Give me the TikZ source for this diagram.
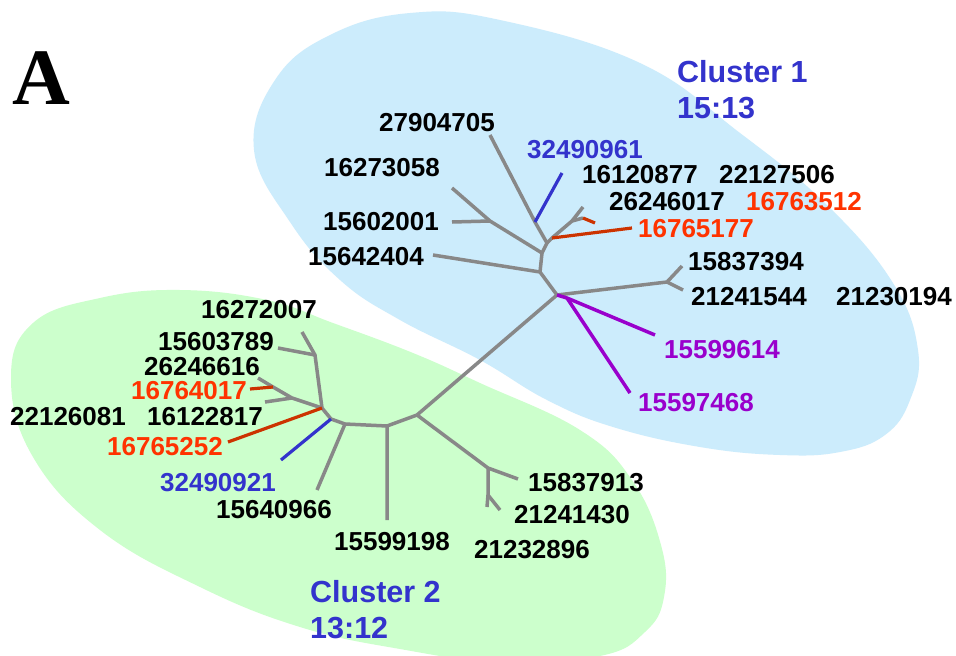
\documentclass[tikz,border=0pt]{standalone}
\usepackage{fontspec}
\setmainfont{Liberation Sans}
\newfontfamily\serifA{Liberation Serif}
\definecolor{bluefill}{RGB}{204,236,252}
\definecolor{greenfill}{RGB}{204,255,204}
\definecolor{clblue}{RGB}{51,51,204}
\definecolor{redtxt}{RGB}{255,51,0}
\definecolor{redln}{RGB}{204,51,0}
\definecolor{purp}{RGB}{153,0,204}
\definecolor{treegray}{RGB}{136,136,136}
\tikzset{
  lbl/.style={font=\fontsize{26}{28}\selectfont\bfseries, inner sep=0pt, text=black},
  clbl/.style={font=\fontsize{30.5}{33}\selectfont\bfseries, inner sep=0pt, text=clblue, anchor=west},
  br/.style={draw=treegray, line width=3.5pt, line join=round},
  brred/.style={draw=redln, line width=3.2pt},
  brblue/.style={draw=clblue, line width=3.2pt},
  brpurp/.style={draw=purp, line width=3.5pt},
}
\begin{document}
\begin{tikzpicture}[x=1pt,y=-1pt]
\clip (0,0) rectangle (956,656);
\fill[white] (0,0) rectangle (956,656);
% cluster regions
\fill[bluefill] plot[smooth cycle, tension=0.7] coordinates {
 (254,150) (275,80) (330,35) (410,13) (500,20) (640,63) (740,133) (827,205)
 (893,283) (918,350) (910,400) (885,435) (840,452) (780,455) (700,447) (613,427)
 (547,400) (480,360) (400,320) (340,280) (290,222)};
\fill[greenfill] plot[smooth cycle, tension=0.7] coordinates {
 (11,378) (33,323) (100,298) (180,290) (267,300) (333,323) (413,353)
 (480,383) (580,430) (632,480) (661,545) (664,597) (645,632) (600,656)
 (500,662) (400,649) (300,627) (200,587) (100,530) (33,457)};
% panel letter
\node[font=\serifA\fontsize{80}{80}\selectfont\bfseries, inner sep=0pt, anchor=base] (panel) at (41,104) {A};
% cluster labels
\node[clbl] (cl1) at (677,72) {Cluster 1};
\node[clbl] (cl1r) at (677,108) {15:13};
\node[clbl] (cl2) at (310,592) {Cluster 2};
\node[clbl] (cl2r) at (310,628) {13:12};
% ---------- tree coordinates, cluster 1 ----------
\coordinate (c1) at (557,295);
\coordinate (c1r) at (667,282);
\coordinate (e15837394) at (682,266);
\coordinate (e21241544) at (683,290);
\coordinate (c1p) at (567,298);
\coordinate (e15599614) at (655,335);
\coordinate (e15597468) at (630,393);
\coordinate (c2) at (540,272);
\coordinate (e15642404) at (433,255);
\coordinate (c3) at (542,253);
\coordinate (c3a) at (490,221);
\coordinate (e16273058) at (452,188);
\coordinate (e15602001) at (452,222);
\coordinate (c4) at (547,243);
\coordinate (c4a) at (535,222);
\coordinate (e27904705) at (490,135);
\coordinate (e32490961) at (562,173);
\coordinate (c4b) at (552,238);
\coordinate (e16765177) at (632,228);
\coordinate (c4c) at (572,221);
\coordinate (e16120877) at (583,207);
\coordinate (c4q) at (583,218);
\coordinate (e16763512) at (595,223);
% ---------- cluster 2 ----------
\coordinate (m1) at (417,415);
\coordinate (mr) at (488,468);
\coordinate (e15837913) at (518,479);
\coordinate (mr2) at (488,495);
\coordinate (e21232896) at (487,507);
\coordinate (e21241430) at (500,510);
\coordinate (m2) at (387,426);
\coordinate (e15599198) at (387,520);
\coordinate (m3) at (345,424);
\coordinate (e15640966) at (317,490);
\coordinate (m4) at (331,419);
\coordinate (e32490921) at (281,460);
\coordinate (m5) at (322,408);
\coordinate (e16765252) at (228,442);
\coordinate (j1) at (315,355);
\coordinate (e16272007) at (302,332);
\coordinate (e15603789) at (278,348);
\coordinate (j2) at (292,398);
\coordinate (jr) at (273,387);
\coordinate (e26246616) at (258,378);
\coordinate (e16764017) at (250,389);
\coordinate (e16122817) at (265,402);
% ---------- gray branches ----------
\draw[br] (c1) -- (m1);
\draw[br] (c1) -- (c1r) -- (e15837394);
\draw[br] (c1r) -- (e21241544);
\draw[br] (c1) -- (c2) -- (e15642404);
\draw[br] (c2) -- (c3) -- (c3a) -- (e16273058);
\draw[br] (c3a) -- (e15602001);
\draw[br] (c3) -- (c4) -- (c4a) -- (e27904705);
\draw[br] (c4) -- (c4b) -- (c4c) -- (e16120877);
\draw[br] (c4c) -- (c4q);
\draw[br] (m1) -- (mr) -- (e15837913);
\draw[br] (mr) -- (mr2) -- (e21232896);
\draw[br] (mr2) -- (e21241430);
\draw[br] (m1) -- (m2) -- (e15599198);
\draw[br] (m2) -- (m3) -- (e15640966);
\draw[br] (m3) -- (m4) -- (m5) -- (j1) -- (e16272007);
\draw[br] (j1) -- (e15603789);
\draw[br] (m5) -- (j2) -- (jr) -- (e26246616);
\draw[br] (j2) -- (e16122817);
% ---------- coloured branches ----------
\draw[brblue] (c4a) -- (e32490961);
\draw[brred] (c4b) -- (e16765177);
\draw[brred] (c4q) -- (e16763512);
\draw[brpurp] (c1) -- (c1p) -- (e15599614);
\draw[brpurp] (c1p) -- (e15597468);
\draw[brblue] (m4) -- (e32490921);
\draw[brred] (m5) -- (e16765252);
\draw[brred] (jr) -- (e16764017);
% ---------- leaf labels, cluster 1 ----------
\node[lbl] (t27904705) at (437,123) {27904705};
\node[lbl, text=clblue] (t32490961) at (585,150) {32490961};
\node[lbl] (t16273058) at (382,168) {16273058};
\node[lbl] (t15602001) at (381,222) {15602001};
\node[lbl] (t15642404) at (366,257) {15642404};
\node[lbl] (t16120877) at (640,175) {16120877};
\node[lbl] (t22127506) at (777,175) {22127506};
\node[lbl] (t26246017) at (667,202) {26246017};
\node[lbl, text=redtxt] (t16763512) at (804,202) {16763512};
\node[lbl, text=redtxt] (t16765177) at (696,229) {16765177};
\node[lbl] (t15837394) at (746,262) {15837394};
\node[lbl] (t21241544) at (749,297) {21241544};
\node[lbl] (t21230194) at (894,297) {21230194};
\node[lbl, text=purp] (t15599614) at (722,350) {15599614};
\node[lbl, text=purp] (t15597468) at (696,403) {15597468};
% ---------- leaf labels, cluster 2 ----------
\node[lbl] (t16272007) at (259,310) {16272007};
\node[lbl] (t15603789) at (216,342) {15603789};
\node[lbl] (t26246616) at (202,367) {26246616};
\node[lbl, text=redtxt] (t16764017) at (189,391) {16764017};
\node[lbl] (t22126081) at (68,417) {22126081};
\node[lbl] (t16122817) at (205,417) {16122817};
\node[lbl, text=redtxt] (t16765252) at (165,447) {16765252};
\node[lbl, text=clblue] (t32490921) at (218,483) {32490921};
\node[lbl] (t15640966) at (274,510) {15640966};
\node[lbl] (t15599198) at (392,542) {15599198};
\node[lbl] (t15837913) at (586,483) {15837913};
\node[lbl] (t21241430) at (572,515) {21241430};
\node[lbl] (t21232896) at (532,550) {21232896};
\end{tikzpicture}
\end{document}
